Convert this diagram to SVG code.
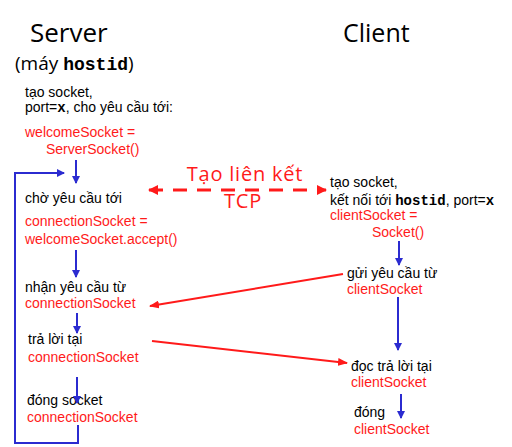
<svg xmlns="http://www.w3.org/2000/svg" width="512" height="447" viewBox="0 0 512 447">
<style>
.t{font-family:"Liberation Sans",Arial,sans-serif;font-size:14px;fill:#000}
.r{fill:#ff1a1a}
.m{font-family:"Liberation Mono","Courier New",monospace;font-weight:bold}
.h{font-family:"Open Sans","DejaVu Sans",sans-serif;font-size:26px;fill:#000}
.c{font-family:"Open Sans","DejaVu Sans",sans-serif;font-size:20px;fill:#ff1a1a;letter-spacing:0.8px}
.b{stroke:#2b2bd0;stroke-width:2;fill:none}
.rl{stroke:#ff1a1a;stroke-width:2;fill:none}
</style>
<defs>
<marker id="ab" markerWidth="8" markerHeight="8" refX="7" refY="4" orient="auto" markerUnits="userSpaceOnUse"><path d="M0,0 L8,4 L0,8 Z" fill="#2b2bd0"/></marker>
<marker id="ar" markerWidth="10" markerHeight="8" refX="9" refY="4" orient="auto" markerUnits="userSpaceOnUse"><path d="M0,0 L10,4 L0,8 Z" fill="#ff1a1a"/></marker>
<marker id="ard" markerWidth="10" markerHeight="10" refX="9" refY="5" orient="auto-start-reverse" markerUnits="userSpaceOnUse"><path d="M0,0 L10,5 L0,10 Z" fill="#ff1a1a"/></marker>
</defs>
<rect width="512" height="447" fill="#fff"/>
<g id="title-server"><text class="h" x="30" y="42">Server</text></g>
<g id="title-client"><text class="h" x="343" y="42" style="font-size:25px">Client</text></g>
<g id="server-host"><text x="15" y="70" style="font-family:'Open Sans','DejaVu Sans',sans-serif;font-size:19px">(máy <tspan class="m" style="font-size:18px">hostid</tspan>)</text></g>
<g id="s1"><text class="t" x="25" y="97">tạo socket,</text><text class="t" x="25" y="112">port=<tspan class="m">x</tspan>, cho yêu cầu tới:</text><text class="t r" x="25" y="137">welcomeSocket =</text><text class="t r" x="46" y="154">ServerSocket()</text></g>
<g id="s2"><text class="t" x="25" y="203">chờ yêu cầu tới</text><text class="t r" x="25" y="226">connectionSocket =</text><text class="t r" x="25" y="244">welcomeSocket.accept()</text></g>
<g id="s3"><text class="t" x="25" y="292">nhận yêu cầu từ</text><text class="t r" x="25" y="308">connectionSocket</text></g>
<g id="s4"><text class="t" x="28" y="344">trả lời tại</text><text class="t r" x="28" y="362">connectionSocket</text></g>
<g id="s5"><text class="t" x="27" y="405">đóng socket</text><text class="t r" x="27" y="422">connectionSocket</text></g>
<g id="c1"><text class="t" x="330" y="187">tạo socket,</text><text class="t" x="330" y="205">kết nối tới <tspan class="m">hostid</tspan>, port=<tspan class="m">x</tspan></text><text class="t r" x="330" y="220">clientSocket =</text><text class="t r" x="372" y="237">Socket()</text></g>
<g id="c2"><text class="t" x="347" y="278">gửi yêu cầu từ</text><text class="t r" x="347" y="294">clientSocket</text></g>
<g id="c3"><text class="t" x="351" y="371">đọc trả lời tại</text><text class="t r" x="351" y="387">clientSocket</text></g>
<g id="c4"><text class="t" x="354" y="417">đóng</text><text class="t r" x="354" y="434">clientSocket</text></g>
<g id="tcp-label"><text class="c" x="245" y="181" text-anchor="middle">Tạo liên kết</text><text class="c" x="243" y="208" text-anchor="middle">TCP</text></g>
<g id="connectors">
<path class="b" d="M76,160 V183" marker-end="url(#ab)"/>
<path class="b" d="M76,250 V277" marker-end="url(#ab)"/>
<path class="b" d="M77,313 V333" marker-end="url(#ab)"/>
<path class="b" d="M77,377 V403" marker-end="url(#ab)"/>
<path class="b" d="M78,425 V443 H15 V173 H64" marker-end="url(#ab)"/>
<path class="b" d="M399,241 V265" marker-end="url(#ab)"/>
<path class="b" d="M398,297 V350" marker-end="url(#ab)"/>
<path class="b" d="M401,394 V418" marker-end="url(#ab)"/>
<path class="rl" d="M343,274 L150,306" marker-end="url(#ar)"/>
<path class="rl" d="M152,341 L347,363" marker-end="url(#ar)"/>
<path d="M149,190 H326" stroke="#ff1a1a" stroke-width="3" stroke-dasharray="14,10" fill="none" marker-start="url(#ard)" marker-end="url(#ard)"/>
</g>
</svg>
